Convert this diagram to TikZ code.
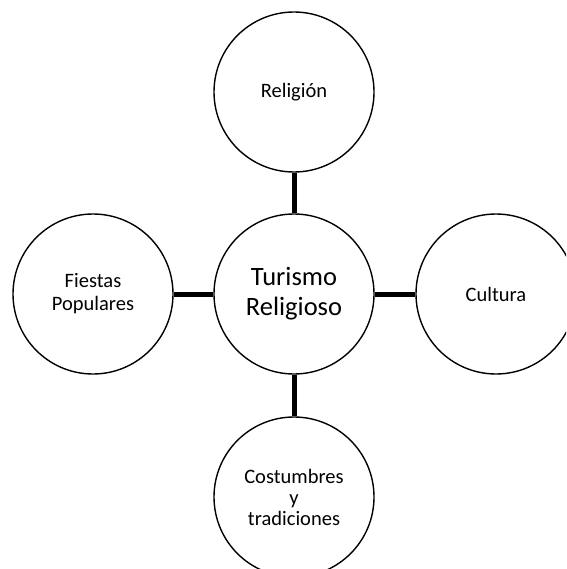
\documentclass[tikz,border=0pt]{standalone}
\usepackage{fontspec}
\setmainfont{Carlito}
\begin{document}
\begin{tikzpicture}[x=1pt,y=-1pt,
  bubble/.style={circle,draw=black,line width=1.4pt,minimum size=160pt,inner sep=0pt,align=center,font=\fontsize{20.5}{23}\selectfont},
  hub/.style={bubble,font=\fontsize{26.5}{30}\selectfont},
  link/.style={line width=5pt,draw=black}]
\useasboundingbox (0,0) rectangle (566,569);
\clip (0,0) rectangle (566,569);
\fill[white] (0,0) rectangle (566,569);
\node[hub] (c) at (294,294) {Turismo\\Religioso};
\node[bubble] (t) at (294,92) {Religión};
\node[bubble] (l) at (93,294) {Fiestas\\Populares};
\node[bubble] (r) at (496,294) {Cultura};
\node[bubble,font=\fontsize{20.5}{21}\selectfont] (b) at (294,497) {Costumbres\\y\\tradiciones};
\draw[link] (c) -- (t);
\draw[link] (c) -- (l);
\draw[link] (c) -- (r);
\draw[link] (c) -- (b);
\end{tikzpicture}
\end{document}
